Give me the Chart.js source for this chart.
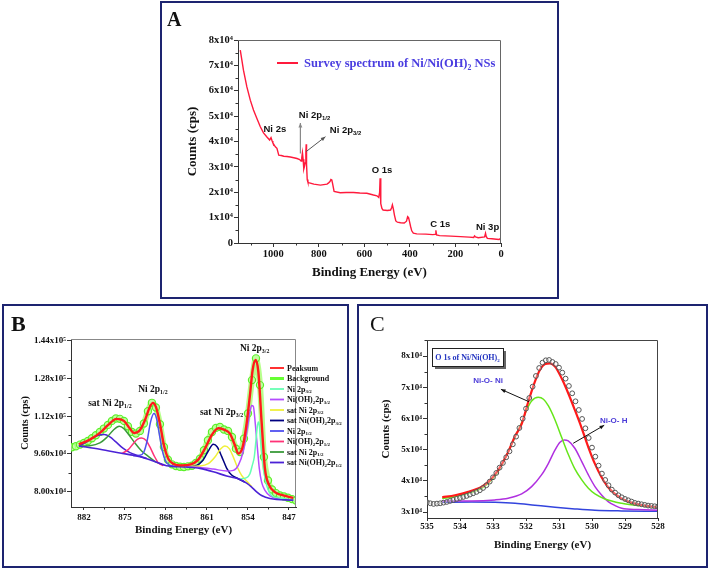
<!DOCTYPE html>
<html><head><meta charset="utf-8">
<script src="https://cdn.jsdelivr.net/npm/chart.js@4"></script>
<style>
body{margin:0;background:#fff;width:709px;height:570px;position:relative;overflow:hidden;font-family:'Liberation Serif',serif;}
.panel{position:absolute;border:2px solid #1d2470;box-sizing:border-box;}
canvas{position:absolute;}
.plabel{position:absolute;font-family:'Liberation Serif',serif;line-height:22px;color:#111;}
</style></head><body>
<div class="panel" style="left:160px;top:1px;width:399px;height:298px"></div>
<div class="panel" style="left:2px;top:304px;width:347px;height:264px"></div>
<div class="panel" style="left:357px;top:304px;width:351px;height:264px"></div>
<canvas id="cA" width="395" height="294" style="left:162px;top:3px"></canvas>
<canvas id="cB" width="343" height="260" style="left:4px;top:306px"></canvas>
<canvas id="cC" width="347" height="260" style="left:359px;top:306px"></canvas>
<div class="plabel" style="left:167px;top:8px;font-size:20px;font-weight:bold">A</div>
<div class="plabel" style="left:11px;top:313px;font-size:22px;font-weight:bold">B</div>
<div class="plabel" style="left:370px;top:313px;font-size:22px">C</div>
<script>
// ================= DATA =================
// Panel A – survey spectrum  [binding energy (eV), counts (cps)]
const surveySpectrum = [[1145,76000],[1131,68100],[1116,61500],[1101,56300],[1087,52400],[1072,49100],[1057,45800],[1043,43400],[1028,41800],[1016,40600],[1010,41500],[1005,40200],[1002,39500],[991,37900],[984,37300],[976,34600],[965,34500],[954,34200],[940,34100],[925,33900],[910,33600],[896,33300],[884,32900],[878,32300],[875,33600],[872,35600],[869,33000],[866,29200],[863,30200],[860,31500],[857,36000],[855.5,38900],[854,31000],[851,25000],[848,24000],[845,23800],[822,23200],[793,22800],[764,23200],[757,23700],[751,24200],[747,25000],[743,24800],[740,23600],[733,20300],[706,19800],[680,19900],[648,19900],[620,19700],[589,19600],[560,18900],[545,18600],[537,18000],[533,20000],[531,25500],[529,19000],[527,15500],[523,13600],[518,13000],[499,12800],[485,13000],[480,14000],[477,15000],[473,13500],[468,11000],[462,8700],[455,8200],[441,8000],[425,7900],[415,8600],[410,10400],[406,10000],[402,8500],[397,6500],[392,4800],[385,3900],[370,3600],[330,3500],[300,3300],[289,3400],[286,5000],[283,3200],[270,2900],[220,2700],[178,2500],[140,2300],[120,2200],[116,2800],[112,2400],[100,2100],[72,2400],[68,3800],[65,2600],[60,1800],[40,1700],[20,1500],[8,1400],[3,1800],[0,1700]];
const surveyXTicks = [0,200,400,600,800,1000];
const surveyYTicks = [0,10000,20000,30000,40000,50000,60000,70000,80000];
const surveyYTickLabels = ['0','1x10⁴','2x10⁴','3x10⁴','4x10⁴','5x10⁴','6x10⁴','7x10⁴','8x10⁴'];
const surveyPeakLabels = ['Ni 2s','Ni 2p_{1/2}','Ni 2p_{3/2}','O 1s','C 1s','Ni 3p'];
const surveyPeakAnchors = [[1043,43800],[888,49100],[752,43200],[568,27400],[311,6400],[110,5100]];

// Panel B – Ni 2p  [binding energy (eV), counts (cps)]
const ni2pMeasured = [[884.05,98790],[883.37,99220],[882.68,99930],[882.00,100640],[881.32,101490],[880.63,102630],[879.95,103910],[879.27,105330],[878.59,106750],[877.90,108320],[877.22,110020],[876.54,111020],[875.85,110880],[875.17,110020],[874.49,107750],[873.80,105330],[873.12,104620],[872.44,105760],[871.76,108890],[871.07,114150],[870.39,117700],[869.71,115710],[869.02,108600],[868.34,98930],[867.66,93530],[866.97,91540],[866.29,90830],[865.61,90540],[864.93,90400],[864.24,90680],[863.56,90970],[862.88,92110],[862.19,93960],[861.51,97510],[860.83,101780],[860.14,105330],[859.46,107040],[858.78,107460],[858.10,106330],[857.41,105760],[856.73,103200],[856.05,98220],[855.36,96800],[854.68,102490],[854.00,113150],[853.31,127370],[852.63,136620],[851.95,125240],[851.27,94670],[850.58,84710],[849.90,80870],[849.22,79310],[848.53,78310],[847.85,77890],[847.17,77320],[846.48,76750],[845.80,76180]];
const ni2pPeaksum = [[882.85,100070],[880.98,102060],[879.27,104900],[877.85,108320],[876.42,110880],[875.17,110020],[874.15,106750],[873.46,104900],[872.55,105760],[871.58,110310],[870.73,116000],[870.22,117700],[869.71,116000],[869.02,108890],[868.34,99640],[867.60,93960],[866.75,91820],[865.32,91110],[863.90,91390],[862.48,93530],[861.34,98220],[860.20,103910],[859.06,106900],[858.10,106330],[857.07,104620],[856.22,99640],[855.65,96090],[854.91,98930],[854.23,108890],[853.66,120970],[853.20,131640],[852.69,135900],[852.23,130930],[851.67,109600],[851.10,89690],[850.36,82580],[849.39,79740],[847.96,78310],[846.26,77320]];
const ni2pBaseline = [[882.85,99360],[879.27,97940],[875.85,96370],[872.44,94810],[870.16,92960],[867.89,90970],[864.47,90400],[862.19,89830],[859.92,88410],[857.64,86560],[855.36,85140],[854.23,83570],[853.37,81870],[852.52,79880],[851.67,78310],[850.24,77030],[846.26,76320]];
const ni2p32Metal = [[855.36,85280],[854.23,85850],[853.66,87560],[853.26,91110],[852.92,94670],[852.63,101780],[852.41,107460],[852.23,109600],[852.06,108180],[851.84,101780],[851.55,94380],[851.27,88270],[850.81,82580],[849.96,78310],[848.53,77180],[846.26,76320]];
const ni2p32Hydroxide = [[864.47,90450],[862.19,90250],[859.92,89550],[857.64,88700],[856.50,88980],[855.65,91110],[854.79,97230],[854.11,106750],[853.66,113860],[853.37,116560],[853.09,116280],[852.75,108890],[852.40,98930],[852.06,89690],[851.67,84000],[851.10,80450],[850.24,78170],[848.53,76890],[846.26,76320]];
const ni2p32SatMetal = [[864.47,90680],[862.19,90830],[860.77,91820],[859.63,94670],[858.78,97790],[857.93,99360],[857.19,98220],[856.50,94670],[855.82,90400],[855.08,86850],[854.23,84430],[853.37,82150]];
const ni2p32SatHydroxide = [[864.47,90400],[862.76,91110],[861.62,93530],[860.77,97230],[859.92,100070],[859.23,98930],[858.49,94950],[857.64,89970],[856.79,87000],[855.65,85420],[854.51,84000]];
const ni2p12Metal = [[873.58,95230],[872.44,95380],[871.76,96800],[871.19,101780],[870.62,109600],[870.05,113150],[869.59,111020],[869.14,104620],[868.63,97510],[868.06,92960],[867.32,91110],[865.61,90680]];
const ni2p12Hydroxide = [[875.57,96090],[874.43,97790],[873.58,100350],[872.89,102200],[872.15,102770],[871.41,101780],[870.73,98930],[870.05,95380],[869.31,92250],[868.45,90970]];
const ni2p12SatMetal = [[882.85,99360],[880.98,99500],[879.27,100640],[878.13,102910],[876.99,106040],[875.97,107750],[875.17,106750],[874.26,103910],[873.29,100640],[872.15,97230],[871.02,94950],[869.88,92820],[868.74,91540]];
const ni2p12SatHydroxide = [[882.85,99360],[881.83,100640],[880.69,102490],[879.55,103910],[878.53,104190],[877.56,103200],[876.54,101070],[875.40,98510],[874.15,96520],[872.72,95230],[871.30,94100]];
const ni2pSeriesNames = ['Peaksum','Background','Ni 2p_{3/2}','Ni(OH)_{2}2p_{3/2}','sat Ni 2p_{3/2}','sat Ni(OH)_{2}2p_{3/2}','Ni 2p_{1/2}','Ni(OH)_{2}2p_{1/2}','sat Ni 2p_{1/2}','sat Ni(OH)_{2}2p_{1/2}'];
const ni2pXTicks = [847,854,861,868,875,882];
const ni2pYTicks = [80000,96000,112000,128000,144000];
const ni2pYTickLabels = ['8.00x10⁴','9.60x10⁴','1.12x10⁵','1.28x10⁵','1.44x10⁵'];
const ni2pPeakLabels = ['Ni 2p_{3/2}','Ni 2p_{1/2}','sat Ni 2p_{1/2}','sat Ni 2p_{3/2}'];
const ni2pPeakAnchors = [[855.37,139740],[872.73,122370],[881.27,116270],[862.2,112730]];

// Panel C – O 1s  [binding energy (eV), counts (cps)]
const o1sMeasured = [[535.0,33120],[534.9,32800],[534.8,32590],[534.7,32700],[534.6,32800],[534.5,33010],[534.4,33230],[534.3,33550],[534.2,33870],[534.1,34190],[534.0,34510],[533.9,34830],[533.8,35150],[533.7,35580],[533.6,36010],[533.5,36440],[533.4,36970],[533.3,37710],[533.2,38570],[533.1,39740],[533.0,41130],[532.9,42520],[532.8,44230],[532.7,45730],[532.6,47540],[532.5,49460],[532.4,51710],[532.3,54160],[532.2,56940],[532.1,59930],[532.0,63130],[531.9,66550],[531.8,70180],[531.7,73600],[531.6,76160],[531.5,77870],[531.4,78620],[531.3,78730],[531.2,78090],[531.1,77440],[531.0,76270],[530.9,74670],[530.8,72750],[530.7,70400],[530.6,68050],[530.5,65480],[530.4,62710],[530.3,59830],[530.2,56830],[530.1,53730],[530.0,50640],[529.9,47750],[529.8,44870],[529.7,42310],[529.6,40280],[529.5,38570],[529.4,37180],[529.3,36220],[529.2,35370],[529.1,34720],[529.0,34190],[528.9,33760],[528.8,33340],[528.7,32910],[528.6,32700],[528.5,32480],[528.4,32270],[528.3,32060],[528.2,31950],[528.1,31840],[528.0,31740]];
const o1sFitSum = [[534.54,34720],[534.15,35370],[533.75,36440],[533.34,38140],[533.14,39640],[532.94,41990],[532.74,45190],[532.54,49250],[532.33,54380],[532.13,58220],[531.93,65380],[531.73,71780],[531.58,75520],[531.42,77440],[531.27,77660],[531.12,76590],[530.92,72850],[530.72,68050],[530.52,62710],[530.31,56830],[530.11,50750],[529.91,45410],[529.71,41130],[529.51,37930],[529.30,35790],[529.10,34300],[528.80,33020],[528.39,32060],[527.99,31520]];
const o1sNiONi = [[534.54,34300],[534.15,34940],[533.75,36010],[533.34,37610],[533.14,39210],[532.94,41560],[532.74,44980],[532.54,49250],[532.33,54160],[532.13,58650],[531.98,62710],[531.83,65590],[531.63,66760],[531.47,66130],[531.32,63990],[531.12,59500],[530.92,53950],[530.72,48500],[530.52,43800],[530.31,40280],[530.11,37610],[529.91,35790],[529.61,34190],[529.10,32800],[528.60,32060],[527.99,31410]];
const o1sNiOH = [[534.54,33550],[533.65,33550],[532.94,33870],[532.54,34410],[532.13,35790],[531.83,38140],[531.53,41880],[531.32,45620],[531.12,49890],[530.97,52350],[530.84,53100],[530.72,52780],[530.52,50430],[530.31,46150],[530.11,41880],[529.91,38140],[529.71,35470],[529.51,33340],[529.30,32060],[529.10,31200],[528.60,30770],[527.99,30560]];
const o1sBaseline = [[534.54,33120],[533.65,33230],[532.94,33120],[532.33,32800],[531.73,32160],[531.12,31520],[530.52,30990],[529.91,30560],[529.10,30350],[527.99,30240]];
const o1sXTicks = [528,529,530,531,532,533,534,535];
const o1sYTicks = [30000,40000,50000,60000,70000,80000];
const o1sYTickLabels = ['3x10⁴','4x10⁴','5x10⁴','6x10⁴','7x10⁴','8x10⁴'];
const o1sPeakLabels = ['Ni-O- Ni','Ni-O- H'];
const o1sPeakAnchors = [[533.6,71440],[529.76,58430]];
const o1sArrows = [[531.91,65350,532.76,69330],[530.57,52020,529.63,57800]];
const o1sBoxTitle = 'O 1s of Ni/Ni(OH)_{2}';

// ================= HELPERS =================
const SERIF = "'Liberation Serif', 'Times New Roman', serif";
const SANS = "'Liberation Sans', Arial, sans-serif";
Chart.defaults.font.family = SERIF;
Chart.defaults.color = '#111';
const pts = arr => arr.map(p => ({x: p[0], y: p[1]}));

function drawRich(ctx, text, x, y, size, weight, family, color, align) {
  const parts = []; const re = /(_|\^)\{([^}]*)\}/g; let last = 0, m;
  while ((m = re.exec(text))) {
    if (m.index > last) parts.push({t: text.slice(last, m.index), k: 'n'});
    parts.push({t: m[2], k: m[1] === '_' ? 'sub' : 'sup'}); last = re.lastIndex;
  }
  if (last < text.length) parts.push({t: text.slice(last), k: 'n'});
  ctx.save(); ctx.fillStyle = color; ctx.textBaseline = 'alphabetic'; ctx.textAlign = 'left';
  const f = k => `${weight} ${k === 'n' ? size : (size * 0.62).toFixed(2)}px ${family}`;
  let w = 0; for (const p of parts) { ctx.font = f(p.k); p.w = ctx.measureText(p.t).width; w += p.w; }
  let cx = align === 'center' ? x - w / 2 : align === 'right' ? x - w : x;
  for (const p of parts) { ctx.font = f(p.k); const dy = p.k === 'sub' ? size * 0.22 : p.k === 'sup' ? -size * 0.42 : 0; ctx.fillText(p.t, cx, y + dy); cx += p.w; }
  ctx.restore(); return w;
}
function arrow(ctx, x1, y1, x2, y2, color, lw, head) {
  ctx.save(); ctx.strokeStyle = color; ctx.fillStyle = color; ctx.lineWidth = lw;
  ctx.beginPath(); ctx.moveTo(x1, y1); ctx.lineTo(x2, y2); ctx.stroke();
  const a = Math.atan2(y2 - y1, x2 - x1);
  ctx.beginPath(); ctx.moveTo(x2, y2);
  ctx.lineTo(x2 - head * Math.cos(a - 0.4), y2 - head * Math.sin(a - 0.4));
  ctx.lineTo(x2 - head * Math.cos(a + 0.4), y2 - head * Math.sin(a + 0.4));
  ctx.closePath(); ctx.fill(); ctx.restore();
}
function minors(major, min, max) {
  const s = [...major].sort((a, b) => a - b); const step = s[1] - s[0]; const out = [];
  for (let v = s[0] - step / 2; v <= s[s.length - 1] + step / 2 + 1e-9; v += step) if (v > min && v < max) out.push(v);
  return out;
}
const deco = {
  id: 'deco',
  afterDatasetsDraw(chart, args, o) {
    const ctx = chart.ctx, ca = chart.chartArea, xs = chart.scales.x, ys = chart.scales.y;
    ctx.save();
    ctx.strokeStyle = o.frameColor; ctx.lineWidth = 1;
    ctx.beginPath(); ctx.moveTo(ca.left, ca.top + 0.5); ctx.lineTo(ca.right - 0.5, ca.top + 0.5); ctx.lineTo(ca.right - 0.5, ca.bottom); ctx.stroke();
    ctx.strokeStyle = '#333';
    ctx.beginPath();
    if (o.minorX) for (const v of minors(o.minorX, xs.min, xs.max)) { const px = Math.round(xs.getPixelForValue(v)) + 0.5; ctx.moveTo(px, ca.bottom); ctx.lineTo(px, ca.bottom + 2.5); }
    if (o.minorY) for (const v of minors(o.minorY, ys.min, ys.max)) { const py = Math.round(ys.getPixelForValue(v)) + 0.5; ctx.moveTo(ca.left, py); ctx.lineTo(ca.left - 2.5, py); }
    ctx.stroke();
    (o.arrows || []).forEach(a => arrow(ctx, xs.getPixelForValue(a.p[0]), ys.getPixelForValue(a.p[1]), xs.getPixelForValue(a.p[2]), ys.getPixelForValue(a.p[3]), a.color, a.lw || 1, a.head || 5));
    (o.labels || []).forEach(l => drawRich(ctx, l.text, xs.getPixelForValue(l.at[0]), ys.getPixelForValue(l.at[1]), l.size, 'bold', l.family, l.color, 'left'));
    if (o.legend) {
      const L = o.legend; let y = L.y;
      chart.data.datasets.forEach(ds => {
        if (!ds.label) return;
        ctx.strokeStyle = ds.legendColor || ds.borderColor; ctx.lineWidth = ds.legendWidth || L.lineWidth;
        ctx.beginPath(); ctx.moveTo(L.x, y); ctx.lineTo(L.x + L.lineLen, y); ctx.stroke();
        drawRich(ctx, ds.label, L.x + L.lineLen + L.gap, y + L.size * 0.33, L.size, 'bold', SERIF, L.color, 'left');
        y += L.rowH;
      });
    }
    if (o.box) {
      const b = o.box;
      ctx.fillStyle = '#666'; ctx.fillRect(b.x + 3, b.y + 3, b.w, b.h);
      ctx.fillStyle = '#fff'; ctx.fillRect(b.x, b.y, b.w, b.h);
      ctx.strokeStyle = '#222'; ctx.lineWidth = 1; ctx.strokeRect(b.x + 0.5, b.y + 0.5, b.w, b.h);
      drawRich(ctx, b.text, b.x + b.w / 2, b.y + b.h / 2 + 3, b.size, 'bold', SERIF, b.color, 'center');
    }
    ctx.restore();
  }
};
function axis(o) {
  const labels = o.labels;
  return {
    type: 'linear', min: o.min, max: o.max, reverse: !!o.reverse,
    afterBuildTicks: s => { s.ticks = o.ticks.map(v => ({value: v})); },
    ticks: {autoSkip: false, maxRotation: 0, minRotation: 0, padding: o.pad, color: '#111',
      font: {size: o.tickSize, weight: 'bold'}, callback: (v, i) => labels ? labels[o.ticks.indexOf(v)] : String(v)},
    grid: {drawOnChartArea: false, drawTicks: true, tickLength: o.tl, color: '#333'},
    border: {display: true, color: '#333', width: 1},
    title: {display: true, text: o.title, color: '#111', font: {size: o.titleSize, weight: 'bold'}, padding: o.titlePad},
    afterFit: s => { if (o.w) s.width = o.w; if (o.h) s.height = o.h; s.paddingLeft = 0; s.paddingRight = 0; s.paddingTop = 0; s.paddingBottom = 0; }
  };
}
function line(label, data, color, width, order, extra) {
  return Object.assign({label, data: pts(data), borderColor: color, backgroundColor: color, borderWidth: width,
    pointRadius: 0, fill: false, cubicInterpolationMode: 'monotone', order}, extra || {});
}
const common = {responsive: false, animation: false, events: [],
  plugins: {legend: {display: false}, tooltip: {enabled: false}}};

// ================= PANEL A =================
new Chart(document.getElementById('cA'), {
  type: 'line',
  data: {datasets: [line('Survey spectrum of Ni/Ni(OH)_{2} NSs', surveySpectrum, '#ff1a3c', 1.4, 0, {cubicInterpolationMode: 'default', tension: 0})]},
  options: Object.assign({}, common, {
    layout: {padding: {left: 0, top: 37, right: 56, bottom: 0}},
    scales: {
      x: axis({min: 0, max: 1155, reverse: true, ticks: surveyXTicks, pad: 1, tl: 4, tickSize: 10.5, title: 'Binding Energy (eV)', titleSize: 13, titlePad: {top: 0, bottom: 17}, h: 54}),
      y: axis({min: 0, max: 80000, ticks: surveyYTicks, labels: surveyYTickLabels, pad: 1, tl: 4, tickSize: 10.5, title: 'Counts (cps)', titleSize: 13, titlePad: {top: 23, bottom: 0}, w: 76})
    },
    plugins: Object.assign({}, common.plugins, {deco: {
      frameColor: '#666', minorX: surveyXTicks, minorY: surveyYTicks,
      legend: {x: 115, y: 60, lineLen: 21, gap: 6, rowH: 14, lineWidth: 2, size: 12.5, color: '#4a3de0'},
      arrows: [{p: [881, 35300, 881, 47300], color: '#888', lw: 1.2, head: 5}, {p: [856, 36000, 771, 41900], color: '#555', lw: 1, head: 5}],
      labels: surveyPeakLabels.map((t, i) => ({text: t, at: surveyPeakAnchors[i], size: 9.5, family: SANS, color: '#111'}))
    }})
  }),
  plugins: [deco]
});

// ================= PANEL B =================
const bColors = ['#ff1a1a', '#66ff33', '#66ffb3', '#b44cff', '#f0f03a', '#000080', '#5050f0', '#ff3377', '#3a9a3a', '#4b22d6'];
const bSeries = [ni2pPeaksum, ni2pMeasured, ni2p32Metal, ni2p32Hydroxide, ni2p32SatMetal, ni2p32SatHydroxide, ni2p12Metal, ni2p12Hydroxide, ni2p12SatMetal, ni2p12SatHydroxide];
const bDatasets = bSeries.map((s, i) => {
  if (i === 0) return line(ni2pSeriesNames[i], s, bColors[i], 2.4, 0);
  if (i === 1) return {label: ni2pSeriesNames[i], data: pts(s), showLine: true, borderColor: 'rgba(170,255,120,0.85)', borderWidth: 6,
    pointRadius: 3.6, pointBorderWidth: 1.2, pointBorderColor: '#5cf02a', pointBackgroundColor: 'rgba(200,255,170,0.7)',
    tension: 0.3, order: 20, legendColor: bColors[1], legendWidth: 3};
  return line(ni2pSeriesNames[i], s, bColors[i], 1.5, 2 + i);
});
bDatasets.push(line('', ni2pBaseline, '#4b22d6', 1.6, 1));
new Chart(document.getElementById('cB'), {
  type: 'line',
  data: {datasets: bDatasets},
  options: Object.assign({}, common, {
    layout: {padding: {left: 0, top: 33, right: 51, bottom: 0}},
    scales: {
      x: axis({min: 845.8, max: 884.2, reverse: true, ticks: ni2pXTicks, pad: 2, tl: 3, tickSize: 9, title: 'Binding Energy (eV)', titleSize: 11, titlePad: {top: 0, bottom: 29}, h: 59}),
      y: axis({min: 73400, max: 144850, ticks: ni2pYTicks, labels: ni2pYTickLabels, pad: 1, tl: 4, tickSize: 9, title: 'Counts (cps)', titleSize: 10, titlePad: {top: 15, bottom: 0}, w: 67})
    },
    plugins: Object.assign({}, common.plugins, {deco: {
      frameColor: '#888', minorX: ni2pXTicks, minorY: ni2pYTicks,
      legend: {x: 266, y: 62, lineLen: 14, gap: 3, rowH: 10.5, lineWidth: 1.8, size: 8, color: '#111'},
      labels: ni2pPeakLabels.map((t, i) => ({text: t, at: ni2pPeakAnchors[i], size: 9.5, family: SERIF, color: '#111'}))
    }})
  }),
  plugins: [deco]
});

// ================= PANEL C =================
new Chart(document.getElementById('cC'), {
  type: 'line',
  data: {datasets: [
    {label: '', data: pts(o1sMeasured), showLine: false, pointRadius: 2.4, pointBorderWidth: 1, pointBorderColor: '#555', pointBackgroundColor: 'rgba(255,255,255,0.3)', order: 0},
    line('', o1sFitSum, '#ff1a1a', 2.2, 1),
    line('', o1sNiONi, '#66e61a', 1.5, 2),
    line('', o1sNiOH, '#b030e0', 1.5, 3),
    line('', o1sBaseline, '#3344dd', 1.5, 4)
  ]},
  options: Object.assign({}, common, {
    layout: {padding: {left: 0, top: 34, right: 48, bottom: 0}},
    scales: {
      x: axis({min: 528, max: 535, reverse: true, ticks: o1sXTicks, pad: 0, tl: 3, tickSize: 9, title: 'Binding Energy (eV)', titleSize: 11, titlePad: {top: 0, bottom: 14}, h: 48}),
      y: axis({min: 28080, max: 85130, ticks: o1sYTicks, labels: o1sYTickLabels, pad: 1, tl: 4, tickSize: 9, title: 'Counts (cps)', titleSize: 11, titlePad: {top: 21, bottom: 0}, w: 68})
    },
    plugins: Object.assign({}, common.plugins, {deco: {
      frameColor: '#444', minorY: o1sYTicks,
      arrows: o1sArrows.map(a => ({p: a, color: '#111', lw: 1, head: 5})),
      labels: o1sPeakLabels.map((t, i) => ({text: t, at: o1sPeakAnchors[i], size: 8, family: SANS, color: '#4a3ad8'})),
      box: {x: 73, y: 42, w: 71, h: 18, text: o1sBoxTitle, size: 8, color: '#2233c0'}
    }})
  }),
  plugins: [deco]
});
</script>
</body></html>
